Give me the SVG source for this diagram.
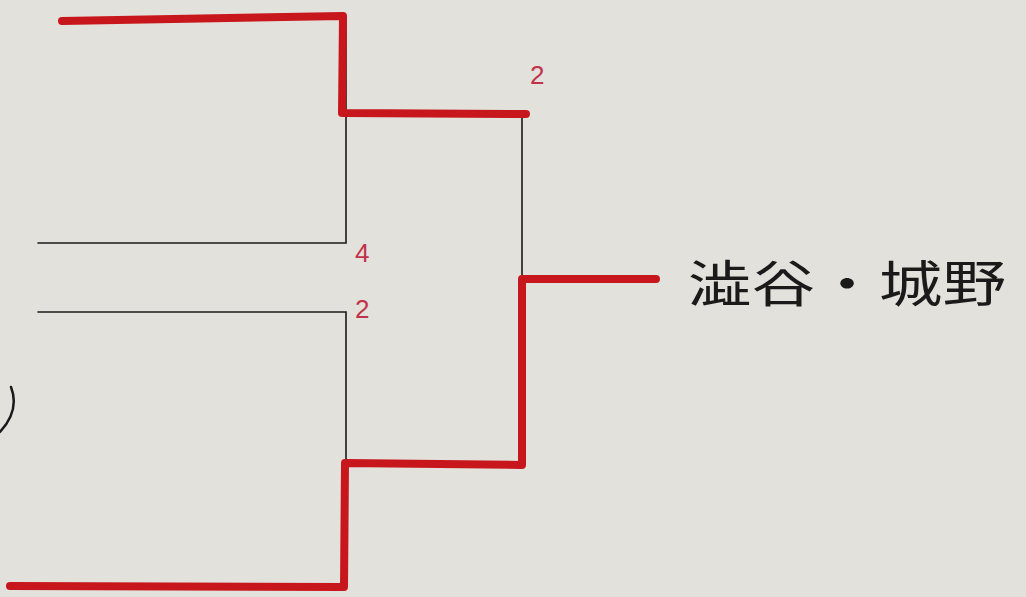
<svg xmlns="http://www.w3.org/2000/svg" width="1026" height="597" viewBox="0 0 1026 597">
<style>
.bg{fill:#e3e1dc}
.thin{fill:none;stroke:#1a1a1a;stroke-width:1.6;stroke-linecap:round}
.red{fill:none;stroke:#c8171c;stroke-width:8;stroke-linecap:round;stroke-linejoin:round}
.num{font-family:"Liberation Sans",sans-serif;font-size:26px;fill:#c0334a}
.team{font-family:"Liberation Sans","Noto Sans CJK JP",sans-serif;font-size:50px;fill:#1a1a1a}
</style>
<rect class="bg" x="0" y="0" width="1026" height="597"/>
<g id="connectors">
  <path class="thin" d="M346,113 L346,243 L38,243"/>
  <path class="thin" d="M38,312 L346,312 L346,463"/>
  <path class="thin" d="M346,16 L346,113"/>
  <path class="thin" d="M522,113 L522,463"/>
  <path class="red" d="M62,21 L343,16 L342,113 L526,114"/>
  <path class="red" d="M10,586 L344,587 L345,463 L522,465 L522,279 L656,279"/>
  <path fill="none" stroke="#1a1a1a" stroke-width="2.5" stroke-linecap="round" d="M11,387 Q20,410 0,432"/>
</g>
<g id="label-2-top"><text class="num" x="530" y="84">2</text></g>
<g id="label-4"><text class="num" x="355" y="262">4</text></g>
<g id="label-2-mid"><text class="num" x="355" y="318">2</text></g>
<g id="winner"><text class="team" x="688" y="302" textLength="318" lengthAdjust="spacingAndGlyphs">澁谷・城野</text></g>
</svg>
